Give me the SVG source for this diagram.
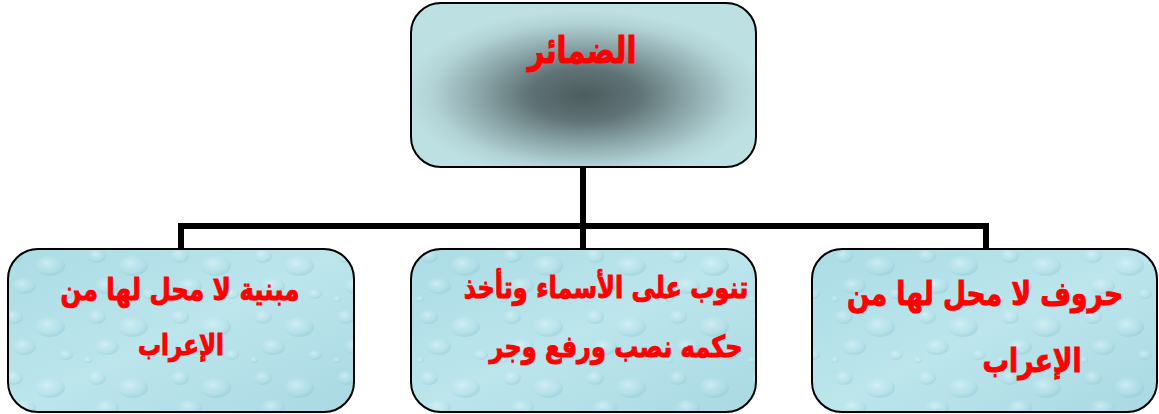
<svg xmlns="http://www.w3.org/2000/svg" width="1159" height="414" viewBox="0 0 1159 414">
<style>
.box{stroke:#000;stroke-width:2}
.tex{fill:url(#drops);stroke:none}
.bg{fill:url(#water)}
.conn{stroke:#000;stroke-width:6;fill:none;stroke-linecap:square}
.t{font-family:"DejaVu Sans",sans-serif;font-weight:bold;fill:#ff0000;stroke:#ff0000;stroke-width:0.8;text-anchor:middle}
</style>
<defs>
<radialGradient id="dark" cx="0.5" cy="0.56" r="0.52">
<stop offset="0" stop-color="#4c5c5f"/>
<stop offset="0.3" stop-color="#5f7275"/>
<stop offset="0.6" stop-color="#8ea9ac"/>
<stop offset="0.85" stop-color="#b3d4d7"/>
<stop offset="1" stop-color="#bde0e3"/>
</radialGradient>
<linearGradient id="water" x1="0" y1="0" x2="1" y2="1">
<stop offset="0" stop-color="#abdce5"/>
<stop offset="0.5" stop-color="#bce5ec"/>
<stop offset="1" stop-color="#a9d9e3"/>
</linearGradient>
<radialGradient id="drop" cx="0.4" cy="0.35" r="0.6">
<stop offset="0" stop-color="#e4f6f9" stop-opacity="0.6"/>
<stop offset="0.6" stop-color="#c8ebf1" stop-opacity="0.2"/>
<stop offset="1" stop-color="#8fc7d3" stop-opacity="0.4"/>
</radialGradient>
<pattern id="drops" width="83" height="61" patternUnits="userSpaceOnUse">
<ellipse cx="14" cy="12" rx="9" ry="7" fill="url(#drop)"/>
<ellipse cx="50" cy="22" rx="15" ry="10" fill="url(#drop)"/>
<ellipse cx="24" cy="42" rx="12" ry="8" fill="url(#drop)"/>
<ellipse cx="66" cy="50" rx="7" ry="5" fill="url(#drop)"/>
<ellipse cx="5" cy="55" rx="4" ry="3" fill="url(#drop)"/>
</pattern>
</defs>
<g id="connectors">
<path class="conn" d="M583 167 V226 M181 249 V226 H986 V249 M583 226 V249"/>
</g>
<g id="node-top">
<rect class="box" x="411" y="3" width="345" height="164" rx="30" fill="url(#dark)"/>
<text class="t" transform="translate(582,63) scale(1,1.25)" font-size="29">الضمائر</text>
</g>
<g id="node-left">
<rect class="bg" x="8" y="249" width="346" height="163" rx="30"/>
<rect class="tex" x="8" y="249" width="346" height="163" rx="30"/>
<rect class="box" x="8" y="249" width="346" height="163" rx="30" fill="none"/>
<text class="t" transform="translate(180,300) scale(1,1.25)" font-size="24.5">مبنية لا محل لها من</text>
<text class="t" transform="translate(181,355) scale(1,1.25)" font-size="23">الإعراب</text>
</g>
<g id="node-middle">
<rect class="bg" x="411" y="249" width="345" height="163" rx="30"/>
<rect class="tex" x="411" y="249" width="345" height="163" rx="30"/>
<rect class="box" x="411" y="249" width="345" height="163" rx="30" fill="none"/>
<text class="t" transform="translate(606,298) scale(1,1.25)" font-size="24">تنوب على الأسماء وتأخذ</text>
<text class="t" transform="translate(616,357) scale(1,1.25)" font-size="24">حكمه نصب ورفع وجر</text>
</g>
<g id="node-right">
<rect class="bg" x="812" y="249" width="345" height="163" rx="30"/>
<rect class="tex" x="812" y="249" width="345" height="163" rx="30"/>
<rect class="box" x="812" y="249" width="345" height="163" rx="30" fill="none"/>
<text class="t" transform="translate(985,305) scale(1,1.25)" font-size="26.5">حروف لا محل لها من</text>
<text class="t" transform="translate(1032,372) scale(1,1.25)" font-size="26.5">الإعراب</text>
</g>
</svg>
